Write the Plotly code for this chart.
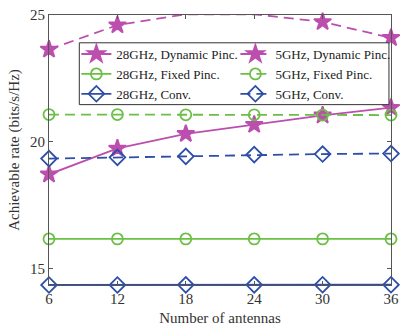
import plotly.graph_objects as go

antennas = [6, 12, 18, 24, 30, 36]
dyn_28 = [18.71, 19.73, 20.31, 20.67, 21.04, 21.34]
dyn_5 = [23.64, 24.60, 25.03, 25.03, 24.73, 24.10]
fixed_28 = [16.16, 16.16, 16.16, 16.16, 16.16, 16.16]
fixed_5 = [21.07, 21.07, 21.06, 21.06, 21.05, 21.05]
conv_28 = [14.34, 14.34, 14.345, 14.345, 14.35, 14.35]
conv_5 = [19.33, 19.38, 19.42, 19.49, 19.51, 19.53]

MAG = "#BC4FAE"
GRN = "#6CBF45"
BLU = "#2E4FA8"

fig = go.Figure()

def add(name, y, color, dash, symbol, size, legend):
    fig.add_trace(go.Scatter(
        x=antennas, y=y, name=name, mode="lines+markers",
        line=dict(color=color, width=1.8, dash=dash),
        marker=dict(symbol=symbol, size=size, color=color,
                    line=dict(color=color, width=1.8)),
        cliponaxis=False, legend=legend,
    ))

DASH = "10px,6px"
add("28GHz, Dynamic Pinc.", dyn_28, MAG, "solid", "star", 13, "legend")
add("28GHz, Fixed Pinc.", fixed_28, GRN, "solid", "circle-open", 11, "legend")
add("28GHz, Conv.", conv_28, BLU, "solid", "diamond-open", 12, "legend")
add("5GHz, Dynamic Pinc.", dyn_5, MAG, DASH, "star", 13, "legend2")
add("5GHz, Fixed Pinc.", fixed_5, GRN, DASH, "circle-open", 11, "legend2")
add("5GHz, Conv.", conv_5, BLU, DASH, "diamond-open", 12, "legend2")

axis_common = dict(
    showline=True, linecolor="#555", linewidth=1, mirror="ticks",
    ticks="inside", ticklen=4, tickcolor="#555", showgrid=False, zeroline=False,
    tickfont=dict(family="Liberation Serif", size=15, color="#333"),
    ticklabeloverflow="allow",
)

leg_common = dict(bgcolor="rgba(0,0,0,0)", borderwidth=0, yanchor="top", xanchor="left",
                  font=dict(family="Liberation Serif", size=13, color="#222"),
                  tracegroupgap=0)

fig.update_layout(
    width=402, height=327,
    margin=dict(l=49, r=3, t=15, b=41),
    plot_bgcolor="white", paper_bgcolor="white",
    font=dict(family="Liberation Serif", color="#333"),
    xaxis=dict(range=[6, 36], tickvals=antennas,
               title=dict(text="Number of antennas", font=dict(size=15, color="#333"), standoff=6),
               **axis_common),
    yaxis=dict(range=[14.34, 25], tickvals=[15, 20, 25],
               title=dict(text="Achievable rate (bits/s/Hz)", font=dict(size=15, color="#333"), standoff=6),
               **axis_common),
    legend=dict(x=0.08, y=0.911, **leg_common),
    legend2=dict(x=0.545, y=0.911, **leg_common),
    shapes=[dict(type="rect", xref="paper", yref="paper", x0=0.0886, x1=0.994,
                 y0=0.668, y1=0.897, fillcolor="white", line=dict(color="#333", width=1),
                 layer="above")],
    showlegend=True,
)

fig.write_html("out.html")
